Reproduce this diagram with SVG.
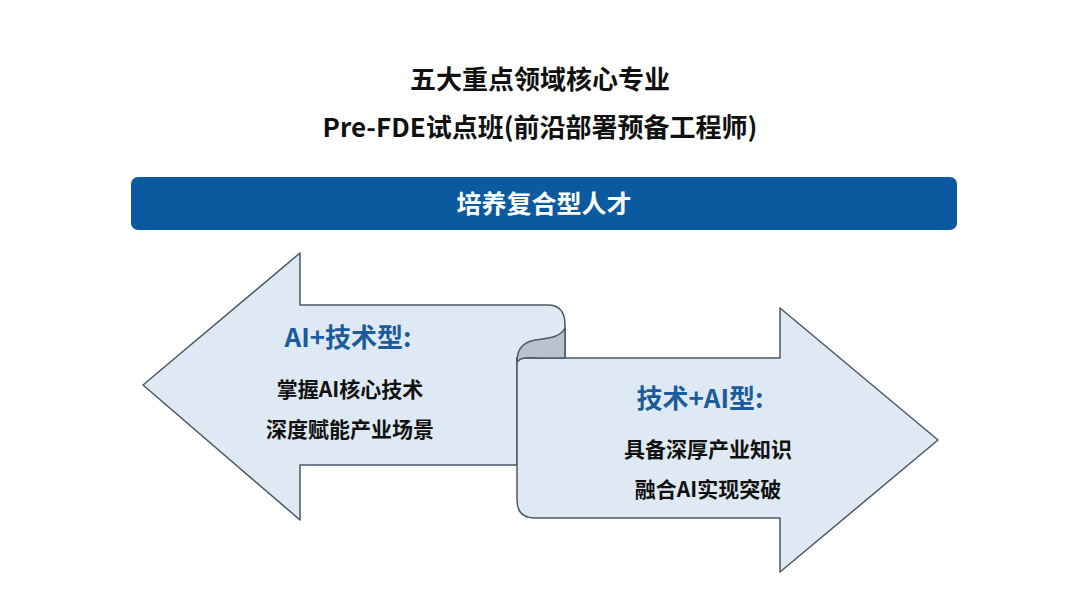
<svg xmlns="http://www.w3.org/2000/svg" width="1080" height="608" viewBox="0 0 1080 608">
<style>
.t{font-family:"Noto Sans CJK SC","Noto Sans",sans-serif;font-weight:bold;text-anchor:middle}
.title{font-size:26px;fill:#111}
.h{font-size:26px;fill:#1b5c9c}
.b{font-size:21px;fill:#111}
.arr{fill:#dfe9f4;stroke:#4b5866;stroke-width:1.5;stroke-linejoin:round}
</style>
<rect width="1080" height="608" fill="#fff"/>
<g id="title">
<text class="t title" x="540" y="89">五大重点领域核心专业</text>
<text class="t title" x="540" y="137">Pre-FDE试点班(前沿部署预备工程师)</text>
</g>
<g id="banner">
<rect x="131" y="177" width="826" height="53" rx="7" fill="#0b5aa0"/>
<text class="t" x="544" y="213" font-size="25" fill="#fff">培养复合型人才</text>
</g>
<g id="connectors"></g>
<g id="left-arrow">
<path class="arr" d="M143,385 L300,253 L300,305 L548,305 Q565,305 565,325 L565,358 L517,358 L517,465 L300,465 L300,520 Z"/>
<text class="t h" x="348" y="347">AI+技术型:</text>
<text class="t b" x="350" y="397">掌握AI核心技术</text>
<text class="t b" x="350" y="437">深度赋能产业场景</text>
</g>
<g id="right-arrow">
<path class="arr" d="M517,358 L780,358 L780,308 L938,440 L780,572 L780,518 L535,518 Q517,518 517,500 Z"/>
<path d="M565,328 C560,338 548,338 535,340 C520,343 517,352 517,362 C522,356 530,358 540,358 L565,358 Z" fill="#b9c3cd" stroke="#4b5866" stroke-width="1.5" stroke-linejoin="round"/>
<text class="t h" x="700" y="408">技术+AI型:</text>
<text class="t b" x="708" y="457">具备深厚产业知识</text>
<text class="t b" x="708" y="497">融合AI实现突破</text>
</g>
</svg>
